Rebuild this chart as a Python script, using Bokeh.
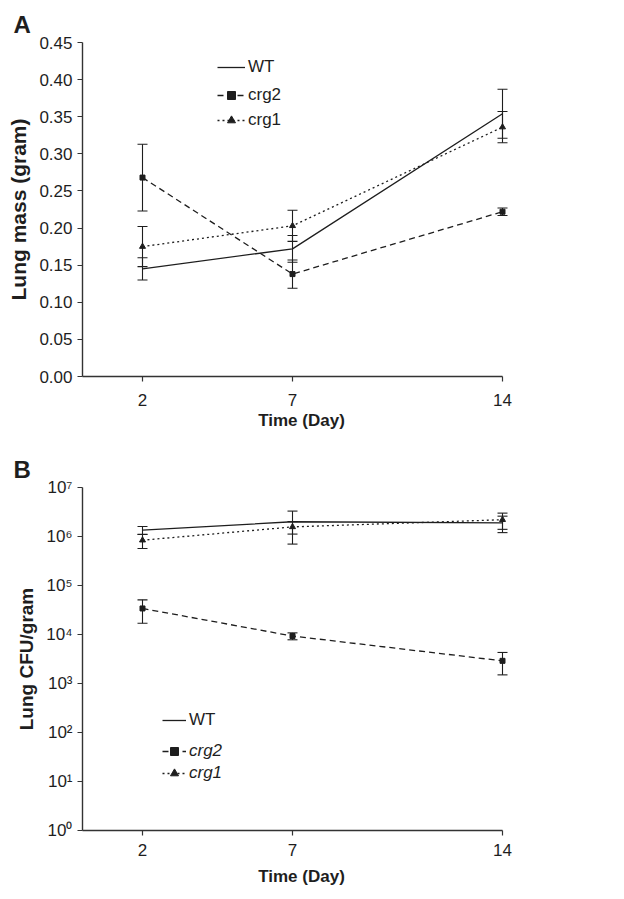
from bokeh.plotting import figure
from bokeh.models import (ColumnDataSource, Whisker, TeeHead, FixedTicker, PrintfTickFormatter,
                          Legend, LegendItem, Range1d)
from bokeh.layouts import column
from bokeh.embed import file_html
from bokeh.resources import INLINE

# ---------------- data ----------------
days = [2, 7, 14]
x_ticks = [2, 7, 14]

# Panel A: lung mass (gram)
wt_mass = [0.145, 0.172, 0.354]
wt_mass_err = [0.015, 0.018, 0.033]
crg2_mass = [0.268, 0.138, 0.222]
crg2_mass_err = [0.045, 0.019, 0.005]
crg1_mass = [0.175, 0.203, 0.336]
crg1_mass_err = [0.027, 0.021, 0.021]
mass_ticks = [0.00, 0.05, 0.10, 0.15, 0.20, 0.25, 0.30, 0.35, 0.40, 0.45]

# Panel B: lung CFU/gram
wt_cfu = [1.35e6, 2.0e6, 1.9e6]
wt_cfu_err = [0.25e6, 1.3e6, 0.7e6]
crg2_cfu = [3.4e4, 9.3e3, 2.9e3]
crg2_cfu_err = [1.7e4, 1.5e3, 1.4e3]
crg1_cfu = [8.4e5, 1.57e6, 2.2e6]
crg1_cfu_err = [2.7e5, 4.5e5, 8.0e5]
cfu_ticks = [1, 10, 100, 1e3, 1e4, 1e5, 1e6, 1e7]
cfu_tick_labels = ["10⁰", "10¹", "10²", "10³", "10⁴", "10⁵", "10⁶", "10⁷"]

FONT = "Liberation Sans"
INK = "#1e1e1e"
AXIS = "#333333"


def style_axes(p, ylabel, ylabel_size, x_std, x_lab_std):
    for ax in (p.xaxis[0], p.yaxis[0]):
        ax.axis_line_color = AXIS
        ax.axis_line_width = 1.4
        ax.major_tick_line_color = AXIS
        ax.major_tick_line_width = 1.2
        ax.major_tick_out = 5
        ax.major_tick_in = 0
        ax.minor_tick_line_color = None
        ax.major_label_text_font = FONT
        ax.major_label_text_font_size = "17px"
        ax.major_label_text_color = INK
        ax.axis_label_text_font = FONT
        ax.axis_label_text_font_style = "bold"
        ax.axis_label_text_color = INK
    p.xaxis[0].axis_label = "Time (Day)"
    p.xaxis[0].axis_label_text_font_size = "17px"
    p.xaxis[0].major_label_standoff = x_std
    p.xaxis[0].axis_label_standoff = x_lab_std
    p.xaxis[0].ticker = FixedTicker(ticks=x_ticks)
    p.xaxis[0].bounds = (0, 14)
    p.yaxis[0].axis_label = ylabel
    p.yaxis[0].axis_label_text_font_size = ylabel_size
    p.yaxis[0].major_label_standoff = 5
    p.yaxis[0].axis_label_standoff = 6
    p.xgrid.grid_line_color = None
    p.ygrid.grid_line_color = None
    p.outline_line_color = None
    p.title.text_font = FONT
    p.title.text_font_size = "24px"
    p.title.text_font_style = "bold"
    p.title.text_color = INK
    p.title.align = "left"
    p.title.offset = -69


def add_series(p, yv, ye, dash, marker, msize):
    src = ColumnDataSource(dict(x=days, y=yv,
                                lo=[a - b for a, b in zip(yv, ye)],
                                hi=[a + b for a, b in zip(yv, ye)]))
    w = Whisker(base="x", lower="lo", upper="hi", source=src,
                line_color=INK, line_width=1.1,
                upper_head=TeeHead(size=10, line_color=INK, line_width=1.1),
                lower_head=TeeHead(size=10, line_color=INK, line_width=1.1))
    p.add_layout(w)
    rs = [p.line("x", "y", source=src, line_color=INK, line_width=1.3, line_dash=dash)]
    if marker is not None:
        rs.append(p.scatter("x", "y", source=src, marker=marker, size=msize,
                            fill_color=INK, line_color=INK))
    return rs


def add_legends(p, rmap, wt_loc, crg_loc, glyph_w, spacing, italic):
    common = dict(padding=0, margin=0, border_line_alpha=0, background_fill_alpha=0,
                  label_text_font=FONT, label_text_font_size="17px", label_text_color=INK,
                  glyph_width=glyph_w, label_standoff=3, label_height=20, glyph_height=20)
    l1 = Legend(items=[LegendItem(label="WT", renderers=rmap["WT"])], location=wt_loc, **common)
    l2 = Legend(items=[LegendItem(label="crg2", renderers=rmap["crg2"]),
                       LegendItem(label="crg1", renderers=rmap["crg1"])],
                location=crg_loc, spacing=spacing,
                label_text_font_style="italic" if italic else "normal",
                **common)
    p.add_layout(l1, "center")
    p.add_layout(l2, "center")


# ---------------- Panel A ----------------
pA = figure(frame_width=438, frame_height=334, output_backend="svg", toolbar_location=None,
            x_range=Range1d(0, 14.6), y_range=Range1d(0, 0.45), title="A",
            min_border_left=82, min_border_top=42, min_border_bottom=72, min_border_right=15)
style_axes(pA, "Lung mass (gram)", "21px", 12, 2)
pA.yaxis[0].ticker = FixedTicker(ticks=mass_ticks)
pA.yaxis[0].formatter = PrintfTickFormatter(format="%.2f")

rA = {}
rA["WT"] = add_series(pA, wt_mass, wt_mass_err, "solid", None, 0)
rA["crg2"] = add_series(pA, crg2_mass, crg2_mass_err, "6 4", "square", 5)
rA["crg1"] = add_series(pA, crg1_mass, crg1_mass_err, "2 3", "triangle", 6)
add_legends(pA, rA, (135, 299), (135, 246), 28, 5, False)

# ---------------- Panel B ----------------
pB = figure(frame_width=438, frame_height=343, output_backend="svg", toolbar_location=None,
            x_range=Range1d(0, 14.6), y_range=Range1d(1, 1e7), y_axis_type="log", title="B",
            min_border_left=82, min_border_top=39, min_border_bottom=64, min_border_right=15)
style_axes(pB, "Lung CFU/gram", "19px", 8, 8)
pB.yaxis[0].ticker = FixedTicker(ticks=cfu_ticks)
pB.yaxis[0].major_label_overrides = {t: s for t, s in zip(cfu_ticks, cfu_tick_labels)}

rB = {}
rB["WT"] = add_series(pB, wt_cfu, wt_cfu_err, "solid", None, 0)
rB["crg2"] = add_series(pB, crg2_cfu, crg2_cfu_err, "6 4", "square", 5)
rB["crg1"] = add_series(pB, crg1_cfu, crg1_cfu_err, "2 3", "triangle", 6)
add_legends(pB, rB, (80, 100), (80, 47), 24, 2, True)

layout = column(pA, pB, spacing=0)
open("out.html", "w").write(file_html(layout, INLINE))
